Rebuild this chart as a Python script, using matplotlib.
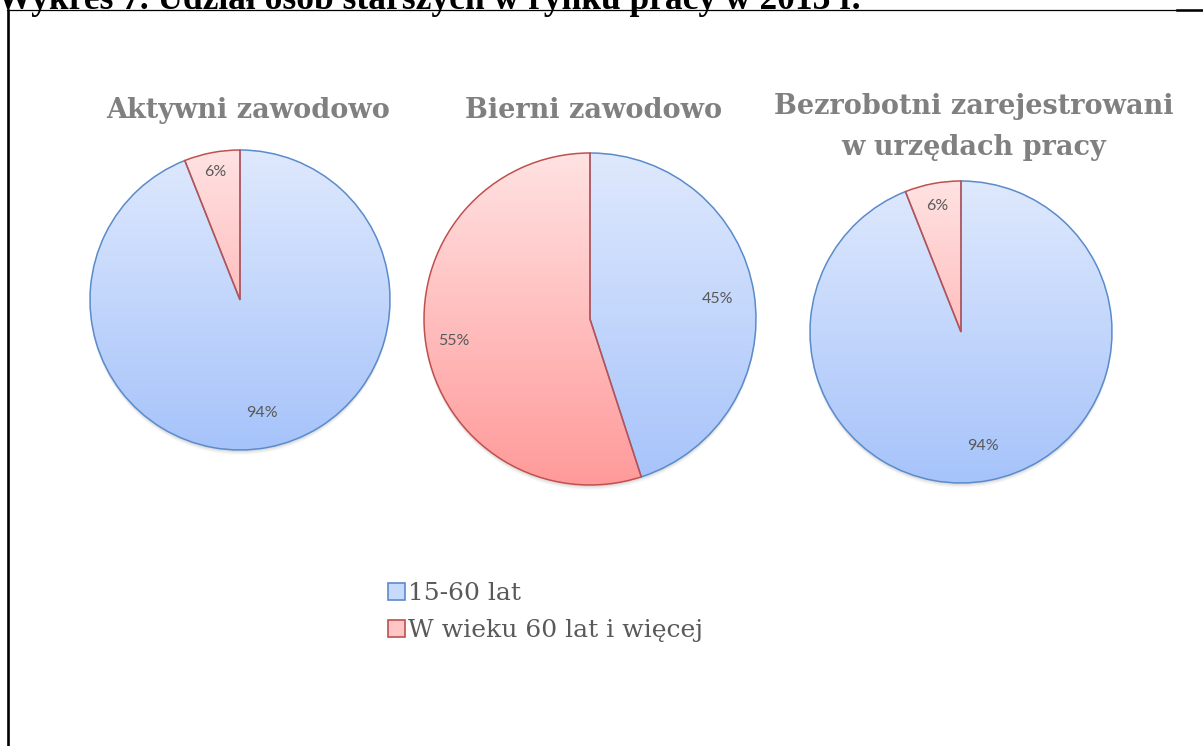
import numpy as np
import matplotlib.pyplot as plt
from matplotlib.colors import LinearSegmentedColormap
from matplotlib.patches import Circle, Patch
from matplotlib.lines import Line2D

# dane
groups = ['Aktywni zawodowo', 'Bierni zawodowo',
          'Bezrobotni zarejestrowani\nw urzędach pracy']
share_15_60 = [94, 45, 94]
share_60_plus = [6, 55, 6]
series_labels = ['15-60 lat', 'W wieku 60 lat i więcej']
chart_title = 'Wykres 7. Udział osób starszych w rynku pracy w 2013 r.'

# uklad (piksele obrazka, y od gory)
W, H = 1203, 746
centers = [(240, 300), (590, 319), (961, 332)]
radii = [150, 166, 151]
title_pos = [(248, 110), (594, 110), (974, 127)]
label_dist = [(0.77, 0.87), (0.78, 0.83), (0.77, 0.85)]

blue_cmap = LinearSegmentedColormap.from_list('b', ['#dfe9fd', '#a6c3fa'])
red_cmap = LinearSegmentedColormap.from_list('r', ['#ffe2e2', '#ff9a9a'])
cmaps = [blue_cmap, red_cmap]
edges = ['#5a8bcb', '#c0504d']

fig = plt.figure(figsize=(W / 100, H / 100), dpi=100)
ax = fig.add_axes([0, 0, 1, 1])


def py(y):
    return H - y


grad = np.linspace(0, 1, 256).reshape(-1, 1)

for i in range(3):
    cx, cy = centers[i]
    r = radii[i]
    c = (cx, py(cy))
    # cien
    for k, a in [(5, 0.04), (4, 0.06), (3, 0.08), (2, 0.10)]:
        ax.add_patch(Circle((cx, py(cy) - k), r, color='#808080', alpha=a,
                            lw=0, zorder=0.5))
    wedges, _ = ax.pie([share_15_60[i], share_60_plus[i]], center=c, radius=r,
                       startangle=90, counterclock=False, frame=True,
                       colors=['none', 'none'],
                       wedgeprops=dict(linewidth=1.1))
    vals = [share_15_60[i], share_60_plus[i]]
    for j, w in enumerate(wedges):
        w.set_edgecolor(edges[j])
        w.set_zorder(2)
        im = ax.imshow(grad, cmap=cmaps[j], origin='upper', aspect='auto',
                       extent=(cx - r, cx + r, py(cy) - r, py(cy) + r),
                       zorder=1.5)
        im.set_clip_path(w)
        th = np.deg2rad((w.theta1 + w.theta2) / 2)
        d = label_dist[i][j] * r
        ax.text(cx + d * np.cos(th), py(cy) + d * np.sin(th), f'{vals[j]}%',
                ha='center', va='center', fontsize=11.5, color='#595959',
                family='Lato', zorder=3)
    tx, ty = title_pos[i]
    ax.text(tx, py(ty), groups[i], ha='center', va='center', fontsize=19.5,
            color='#808080', family='DejaVu Serif', weight='bold',
            linespacing=1.65)

ax.set_xlim(0, W)
ax.set_ylim(0, H)
ax.axis('off')

handles = [Patch(facecolor='#c8dafb', edgecolor=edges[0], lw=1.2),
           Patch(facecolor='#ffc6c6', edgecolor=edges[1], lw=1.2)]
fig.legend(handles, series_labels, loc='upper left',
           bbox_to_anchor=(375 / W, 1 - 570 / H), frameon=False,
           borderpad=0, handlelength=0.68, handleheight=0.68,
           handletextpad=0.15, labelspacing=0.55,
           prop=dict(family='DejaVu Serif', size=18), labelcolor='#595959')

# ramka i obciety tytul u gory
fig.add_artist(Line2D([7 / W, 1], [1 - 10 / H] * 2, color='black', lw=0.9))
fig.add_artist(Line2D([1177 / W, 1], [1 - 10 / H] * 2, color='black', lw=1.8))
fig.add_artist(Line2D([8 / W, 8 / W], [1 - 10 / H, 0], color='black', lw=1.9))
fig.text(-3 / W, 1 - 9 / H, chart_title, ha='left', va='baseline',
         fontsize=25.5, family='Liberation Serif', weight='bold')

fig.savefig('out.png', dpi=100)
